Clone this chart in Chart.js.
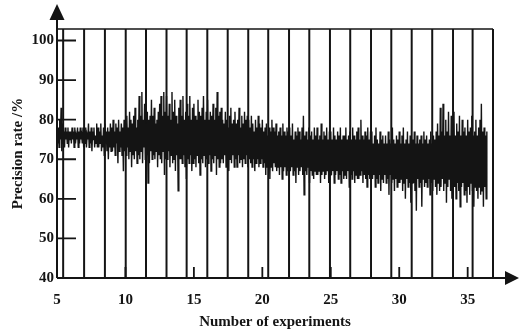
<!DOCTYPE html>
<html>
<head>
<meta charset="utf-8">
<script src="https://cdn.jsdelivr.net/npm/chart.js@4/dist/chart.umd.min.js"></script>
<style>
  html, body { margin: 0; padding: 0; background: #fff; }
  #wrap { width: 519px; height: 331px; }
</style>
</head>
<body>
<div id="wrap"><canvas id="chart" width="519" height="331"></canvas></div>
<script>
// sampling of the precision curve (one value every 0.05 experiment, starting at 5)
const xStart = 5;
const xStep = 0.05;

const precision = [
    76, 74, 78, 73, 80, 75, 83, 72, 79, 74, 77, 73, 78, 75, 77, 74, 78, 73, 77, 75,   // 5
    77, 74, 78, 75, 77, 73, 78, 74, 76, 75, 78, 73, 77, 74, 78, 75, 76, 74, 78, 73,   // 6
    77, 74, 78, 73, 76, 75, 79, 73, 77, 74, 78, 72, 77, 75, 78, 73, 76, 74, 79, 73,   // 7
    78, 73, 77, 74, 79, 72, 76, 73, 78, 71, 79, 74, 77, 72, 78, 70, 77, 73, 79, 72,   // 8
    78, 72, 80, 73, 77, 71, 79, 74, 78, 69, 80, 72, 77, 73, 79, 71, 78, 67, 80, 72,   // 9
    79, 71, 81, 73, 78, 70, 82, 72, 80, 68, 79, 71, 81, 70, 83, 72, 78, 69, 80, 71,   // 10
    86, 70, 81, 72, 87, 69, 80, 73, 84, 70, 79, 71, 82, 64, 80, 69, 81, 72, 85, 70,   // 11
    81, 71, 83, 70, 79, 72, 80, 68, 82, 71, 84, 70, 86, 69, 81, 72, 87, 66, 82, 70,   // 12
    86, 70, 81, 72, 84, 68, 80, 71, 87, 69, 82, 70, 85, 67, 81, 71, 79, 62, 83, 70,   // 13
    85, 70, 81, 69, 86, 71, 80, 68, 82, 65, 84, 70, 81, 69, 86, 71, 80, 67, 83, 69,   // 14
    84, 70, 81, 68, 80, 71, 85, 69, 82, 66, 81, 70, 83, 69, 86, 71, 80, 68, 82, 70,   // 15
    85, 69, 80, 71, 82, 67, 81, 70, 84, 69, 80, 71, 83, 66, 87, 70, 81, 68, 82, 69,   // 16
    83, 70, 80, 69, 79, 71, 82, 68, 80, 70, 78, 67, 81, 70, 83, 69, 79, 71, 80, 68,   // 17
    82, 70, 79, 68, 80, 71, 83, 69, 78, 70, 81, 68, 79, 70, 82, 69, 80, 71, 81, 68,   // 18
    80, 70, 78, 69, 81, 68, 79, 70, 77, 67, 80, 69, 78, 70, 81, 68, 79, 69, 78, 70,   // 19
    80, 68, 77, 69, 78, 66, 79, 68, 76, 69, 78, 65, 77, 68, 80, 67, 78, 69, 77, 68,   // 20
    79, 67, 76, 68, 77, 66, 78, 68, 76, 65, 79, 67, 77, 68, 76, 66, 78, 67, 77, 68,   // 21
    78, 67, 76, 68, 79, 66, 75, 67, 77, 64, 76, 68, 78, 66, 77, 67, 75, 68, 78, 66,   // 22
    81, 61, 76, 67, 77, 66, 75, 68, 78, 64, 76, 67, 77, 66, 75, 65, 78, 67, 76, 66,   // 23
    78, 66, 75, 67, 76, 64, 79, 66, 75, 67, 77, 65, 76, 66, 78, 67, 75, 64, 77, 66,   // 24
    77, 66, 75, 67, 78, 64, 76, 66, 75, 67, 77, 65, 76, 66, 78, 64, 75, 67, 76, 65,   // 25
    76, 66, 78, 65, 75, 67, 76, 63, 77, 66, 75, 65, 78, 67, 76, 64, 75, 66, 77, 65,   // 26
    78, 65, 75, 66, 80, 67, 76, 64, 75, 66, 77, 65, 76, 63, 78, 66, 75, 65, 77, 66,   // 27
    77, 65, 74, 66, 76, 63, 78, 65, 75, 64, 74, 66, 77, 62, 75, 65, 76, 64, 74, 66,   // 28
    76, 64, 74, 65, 77, 61, 75, 66, 74, 64, 78, 65, 75, 62, 74, 65, 76, 63, 75, 64,   // 29
    77, 64, 74, 65, 76, 62, 78, 64, 74, 60, 75, 65, 77, 63, 74, 64, 76, 59, 75, 64,   // 30
    75, 64, 77, 62, 74, 57, 76, 65, 74, 63, 75, 64, 76, 58, 74, 65, 77, 63, 75, 64,   // 31
    76, 63, 74, 65, 75, 61, 77, 64, 74, 62, 76, 65, 75, 63, 77, 61, 79, 64, 76, 62,   // 32
    83, 63, 77, 65, 84, 62, 76, 64, 80, 59, 77, 63, 82, 65, 76, 62, 81, 60, 77, 64,   // 33
    82, 63, 76, 60, 79, 64, 77, 62, 81, 58, 76, 63, 80, 64, 77, 61, 78, 62, 76, 59,   // 34
    80, 63, 77, 61, 78, 64, 81, 62, 76, 58, 77, 63, 80, 62, 76, 60, 78, 63, 80, 61,   // 35
    84, 62, 77, 58, 78, 63, 76, 60, 77                                                // 36
];

// vertical separator lines (experiment positions)
const markerX = [5.45, 6.98, 8.5, 10.02, 11.5, 13.0, 14.47, 15.98, 17.47, 18.97, 20.43,
                 21.95, 23.43, 24.94, 26.42, 27.94, 29.42, 30.91, 32.41, 33.93, 35.36, 36.85];

const xTicks = [5, 10, 15, 20, 25, 30, 35];
const yTicks = [40, 50, 60, 70, 80, 90, 100];
const xMin = 5, xMax = 36.85;
const yMin = 40, yMax = 102.9;

const ink = '#141414';
const serif = { family: '"Liberation Serif", "Times New Roman", serif', size: 15, weight: 'bold' };

const curve = precision.map((v, i) => ({ x: xStart + i * xStep, y: v }));

const datasets = [{
    data: curve,
    borderColor: ink,
    borderWidth: 1.4,
    pointRadius: 0,
    tension: 0,
    fill: false
}];

markerX.forEach(v => {
    datasets.push({
        data: [{ x: v, y: yMin }, { x: v, y: yMax }],
        borderColor: ink,
        borderWidth: 2,
        pointRadius: 0,
        clip: false
    });
});

// top frame line
datasets.push({
    data: [{ x: xMin, y: yMax }, { x: xMax, y: yMax }],
    borderColor: ink,
    borderWidth: 1.5,
    pointRadius: 0,
    clip: false
});

// axes with arrow heads + inner tick marks
const axesPlugin = {
    id: 'axesPlugin',
    afterDatasetsDraw(chart) {
        const ctx = chart.ctx;
        const a = chart.chartArea;
        const xs = chart.scales.x, ys = chart.scales.y;
        ctx.save();
        ctx.strokeStyle = ink;
        ctx.fillStyle = ink;
        ctx.lineWidth = 2;

        ctx.beginPath();
        ctx.moveTo(a.left, a.bottom);
        ctx.lineTo(a.left, 16);
        ctx.moveTo(a.left, a.bottom);
        ctx.lineTo(508, a.bottom);
        ctx.stroke();

        ctx.beginPath();
        ctx.moveTo(a.left, 4);
        ctx.lineTo(a.left - 7.5, 20);
        ctx.lineTo(a.left + 7.5, 20);
        ctx.closePath();
        ctx.fill();

        ctx.beginPath();
        ctx.moveTo(519, a.bottom);
        ctx.lineTo(505, a.bottom - 7);
        ctx.lineTo(505, a.bottom + 7);
        ctx.closePath();
        ctx.fill();

        ctx.lineWidth = 1.8;
        ctx.beginPath();
        yTicks.forEach(v => {
            const y = ys.getPixelForValue(v);
            ctx.moveTo(a.left, y);
            ctx.lineTo(a.left + 19, y);
        });
        xTicks.slice(1).forEach(v => {
            const x = xs.getPixelForValue(v);
            ctx.moveTo(x, a.bottom);
            ctx.lineTo(x, a.bottom - 11);
        });
        ctx.stroke();
        ctx.restore();
    }
};

new Chart(document.getElementById('chart'), {
    type: 'line',
    data: { datasets },
    options: {
        responsive: false,
        animation: false,
        layout: { padding: { top: 29, right: 26, left: 0, bottom: 0 } },
        plugins: { legend: { display: false }, tooltip: { enabled: false } },
        scales: {
            x: {
                type: 'linear',
                min: xMin,
                max: xMax,
                afterBuildTicks: s => { s.ticks = xTicks.map(v => ({ value: v })); },
                afterFit: s => { s.height = 53; },
                grid: { display: false, drawTicks: false },
                border: { display: false },
                ticks: { font: serif, color: ink, padding: 13, maxRotation: 0, autoSkip: false },
                title: {
                    display: true,
                    text: 'Number of experiments',
                    font: serif,
                    color: ink,
                    padding: { top: 0, bottom: 0 }
                }
            },
            y: {
                min: yMin,
                max: yMax,
                afterBuildTicks: s => { s.ticks = yTicks.map(v => ({ value: v })); },
                afterFit: s => { s.width = 57; },
                grid: { display: false, drawTicks: false },
                border: { display: false },
                ticks: { font: serif, color: ink, padding: 3 },
                title: {
                    display: true,
                    text: 'Precision rate /%',
                    font: serif,
                    color: ink,
                    padding: { top: 9, bottom: 0 }
                }
            }
        }
    },
    plugins: [axesPlugin]
});
</script>
</body>
</html>
